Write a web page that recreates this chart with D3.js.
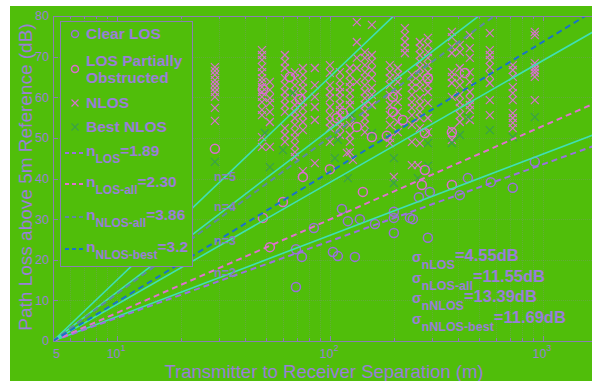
<!DOCTYPE html>
<html><head><meta charset="utf-8">
<script src="https://cdn.jsdelivr.net/npm/d3@7"></script>
<style>html,body{margin:0;padding:0;background:#fff;overflow:hidden}</style>
</head><body><svg id="c" width="592" height="381"></svg>
<script>
// ---------- data ----------
const xTicks = [5, 10, 100, 1000];
const xTickBase = ["5", "10", "10", "10"];
const xTickExp = ["", "1", "2", "3"];
const yTicks = [0, 10, 20, 30, 40, 50, 60, 70, 80];

const refN = [2, 3, 4, 5];
const fitN = [1.89, 2.30, 3.86, 3.2];
const fitSub = ["LOS", "LOS-all", "NLOS-all", "NLOS-best"];
const fitVal = ["1.89", "2.30", "3.86", "3.2"];
const sigmaSub = ["nLOS", "nLOS-all", "nNLOS", "nNLOS-best"];
const sigmaVal = ["4.55dB", "11.55dB", "13.39dB", "11.69dB"];

const clearLOS = [[113.7,32.5],[121.3,29.5],[138.1,30.0],[84.0,27.8],[69.2,22.6],[73.8,20.7],[103.2,21.9],[108.9,20.9],[130.9,20.7],[69.2,13.3],[162.5,28.8],[199.5,31.8],[199.5,30.3],[199.5,26.6],[237.3,30.3],[261.4,35.4],[294.5,36.7],[407.2,35.9],[444.1,40.1],[569.2,39.1],[721.9,37.7],[916.2,44.1],[245.1,30.0],[288.2,25.4]];

const partialLOS = [[28.8,47.3],[48.4,62.0],[64.8,65.0],[72.2,59.6],[107.7,54.9],[115.0,56.1],[133.7,52.7],[157.3,50.2],[184.9,50.5],[220.0,54.4],[197.3,60.1],[197.3,56.4],[288.2,64.7],[429.9,66.0],[278.9,42.1],[278.9,51.2],[373.6,51.4],[270.0,38.4],[373.6,38.4],[60.1,34.2],[74.6,40.4],[99.9,42.3],[142.7,36.7],[52.2,23.1],[48.4,30.3]];

const nlosCols = [
 [28.8,[67.4,66.5,65.5,64.2,63.3,62.3,61.3,60.1,57.4,54.2]],
 [47.9,[71.6,70.4,69.2,67.4,66.2,64.7,63.8,62.5,61.3,60.1,58.8,56.9,55.6,50.2,47.8]],
 [52.2,[63.8,61.8,59.8,58.6,56.4,53.9,47.8]],
 [61.4,[70.4,68.7,67.2,64.7,63.0,61.3,59.8,58.1,56.4,52.4,50.7,49.0]],
 [68.4,[66.2,64.7,63.0,61.3,59.8,58.1,56.4,54.9,53.2,51.4,50.0,48.2,46.5,45.3]],
 [74.6,[67.2,65.5,63.8,62.3,60.6,58.8,57.4,55.6,53.9,51.9,41.8]],
 [84.9,[67.2,63.0,60.1,57.6,54.4,43.8]],
 [99.9,[67.9,66.0,63.0,61.3,59.8,57.6,55.6,53.9,52.4,49.0]],
 [111.3,[66.2,64.2,62.5,61.3,59.8,58.1,56.9,55.6,53.9,52.7,50.7]],
 [120.0,[46.3]],
 [124.0,[67.2,65.5,63.8,62.5,61.0,59.3,58.1,55.6,53.2,50.7,49.0,46.5]],
 [128.1,[44.6]],
 [133.7,[78.5,73.6,69.7,67.2,63.8]],
 [145.8,[71.1,69.7,67.9,66.2,64.7,63.0,61.3,59.8,58.1,56.4,54.9,53.2,51.4]],
 [157.3,[77.8,70.4,68.7,66.7,64.7,62.3,60.6,58.1]],
 [191.0,[67.9,66.2,64.7,63.0,60.6,58.1,55.6,53.2,50.0,48.7]],
 [199.5,[40.4]],
 [208.3,[67.2,65.5,63.8,61.3,58.8,56.4,53.9,51.4]],
 [224.8,[77.0,75.3,73.6,72.1,70.9]],
 [242.4,[65.5,63.8,62.3,60.6,58.8,57.4,55.6,53.2,49.0,43.3]],
 [258.6,[43.3]],
 [264.3,[73.6,72.1,70.4,68.7,67.2,65.5,63.8,62.3,59.8,58.1,56.4,54.9,52.4,48.7]],
 [288.2,[74.6,72.9,71.1,69.7,67.9,66.2,64.7,63.0,61.3,58.6,54.9,51.4]],
 [373.6,[76.1,74.8,72.4,70.9,66.2,65.0,63.5,60.1,51.9,49.5]],
 [407.2,[72.9,71.1,67.2,64.7,63.0,60.6,58.8,57.4,55.6,53.9]],
 [453.8,[75.3,72.1,69.7,66.2,63.8,61.3,59.3,58.1,56.9,54.4]],
 [563.1,[75.8,71.6,70.4,69.2,67.4,65.5,63.5,59.3,55.6]],
 [721.9,[67.9,66.7,65.0,62.5,61.0,59.3,56.1,54.9,53.7,52.4]],
 [916.2,[76.1,75.3,68.4,67.4,66.7,66.0,65.0,59.3]]
];

const bestNLOS = [[28.8,44.1],[49.5,51.2],[52.2,42.8],[66.9,61.0],[60.1,47.0],[105.4,45.0],[108.9,49.5],[121.3,40.1],[157.3,51.2],[199.5,45.0],[199.5,38.9],[288.2,43.1],[258.6,40.1],[288.2,48.7],[373.6,48.7],[407.2,50.7],[444.1,55.1],[563.1,51.9],[721.9,50.2],[916.2,55.1],[126.7,55.6]];

// ---------- style ----------
const FONT = "'Liberation Sans', Arial, Helvetica, sans-serif";
const TXT = "#9a7fd8", AX = "#8a80b0", BG = "#50be0a";
const C_CLEAR = "#9b70dc", C_PART = "#dc6cd2", C_NLOS = "#d870d0", C_BEST = "#3aa04c";
const C_REF = "#40dfb4";
const fitColors = ["#9b70e0", "#e070d0", "#5f8aa0", "#1a72c8"];

const W = 592, H = 381;
const svg = d3.select("#c");
svg.append("rect").attr("x", 10).attr("y", 6).attr("width", W - 10).attr("height", H - 6).attr("fill", BG);

const L = 53, T = 16, R = 607, B = 341;
const x = d3.scaleLog().domain([5, 2000]).range([L, R]);
const y = d3.scaleLinear().domain([0, 80]).range([B, T]);

svg.append("clipPath").attr("id", "pc").append("rect")
  .attr("x", L).attr("y", T).attr("width", R - L).attr("height", B - T);

// grid
const grid = svg.append("g").attr("stroke", "#8a8aa0").attr("stroke-opacity", 0.32).attr("stroke-width", 1);
grid.selectAll(".gx").data(x.ticks()).join("line")
  .attr("x1", d => Math.round(x(d)) + 0.5).attr("x2", d => Math.round(x(d)) + 0.5)
  .attr("y1", T).attr("y2", B).attr("stroke-dasharray", "1,1");
grid.selectAll(".gy").data(yTicks).join("line")
  .attr("x1", L).attr("x2", R).attr("y1", d => Math.round(y(d)) + 0.5).attr("y2", d => Math.round(y(d)) + 0.5)
  .attr("stroke-dasharray", "1,1");

const plot = svg.append("g").attr("clip-path", "url(#pc)");

function cross(g, data, color, s) {
  g.selectAll(null).data(data).join("path")
    .attr("d", d => {
      const px = x(d[0]), py = y(d[1]);
      return `M${px - s},${py - s}L${px + s},${py + s}M${px - s},${py + s}L${px + s},${py - s}`;
    })
    .attr("stroke", color).attr("stroke-width", 1.2).attr("fill", "none");
}
const nlosPts = nlosCols.flatMap(c => c[1].map(v => [c[0], v]));
cross(plot.append("g"), nlosPts, C_NLOS, 4);
cross(plot.append("g"), bestNLOS, C_BEST, 4);

plot.append("g").selectAll("circle").data(partialLOS).join("circle")
  .attr("cx", d => x(d[0])).attr("cy", d => y(d[1])).attr("r", 4.5)
  .attr("fill", "none").attr("stroke", C_PART).attr("stroke-width", 1.5);
plot.append("g").selectAll("circle").data(clearLOS).join("circle")
  .attr("cx", d => x(d[0])).attr("cy", d => y(d[1])).attr("r", 4.5)
  .attr("fill", "none").attr("stroke", C_CLEAR).attr("stroke-width", 1.5);

// lines
const lineFor = n => d3.line().x(d => x(d)).y(d => y(10 * n * Math.log10(d / 5)))([5, 2000]);
plot.append("g").selectAll("path").data(refN).join("path")
  .attr("d", lineFor).attr("fill", "none").attr("stroke", C_REF).attr("stroke-width", 1.6);
plot.append("g").selectAll("path").data(fitN).join("path")
  .attr("d", lineFor).attr("fill", "none")
  .attr("stroke", (d, i) => fitColors[i]).attr("stroke-width", 2).attr("stroke-dasharray", "6,4");

// n= labels
const nLabelY = [277, 245, 211, 181];
svg.append("g").selectAll("text").data(refN).join("text")
  .attr("x", 214).attr("y", (d, i) => nLabelY[i])
  .attr("font-family", FONT).attr("font-weight", "bold").attr("font-size", 12.5)
  .attr("fill", "#8a7fc4").text(d => "n=" + d);

// axes frame
const ax = svg.append("g").attr("stroke", AX).attr("stroke-width", 1).attr("fill", "none");
ax.append("line").attr("x1", L + 0.5).attr("x2", L + 0.5).attr("y1", T).attr("y2", B + 0.5);
ax.append("line").attr("x1", L).attr("x2", R).attr("y1", B + 0.5).attr("y2", B + 0.5);
ax.append("line").attr("x1", L).attr("x2", R).attr("y1", T + 0.5).attr("y2", T + 0.5);
ax.selectAll(".ty").data(yTicks).join("line")
  .attr("x1", L).attr("x2", L + 5).attr("y1", d => Math.round(y(d)) + 0.5).attr("y2", d => Math.round(y(d)) + 0.5);
ax.selectAll(".tx").data(x.ticks()).join("line")
  .attr("x1", d => Math.round(x(d)) + 0.5).attr("x2", d => Math.round(x(d)) + 0.5)
  .attr("y1", B).attr("y2", d => B - (xTicks.includes(d) ? 5 : 3));
ax.selectAll(".tt").data(x.ticks()).join("line")
  .attr("x1", d => Math.round(x(d)) + 0.5).attr("x2", d => Math.round(x(d)) + 0.5)
  .attr("y1", T).attr("y2", d => T + (xTicks.includes(d) ? 5 : 3));

// tick labels
svg.append("g").selectAll("text").data(yTicks).join("text")
  .attr("x", 49).attr("y", d => y(d)).attr("dy", "0.35em").attr("text-anchor", "end")
  .attr("font-family", FONT).attr("font-size", 12.5).attr("fill", TXT).text(d => d);
const xl = svg.append("g").selectAll("text").data(xTicks).join("text")
  .attr("x", (d, i) => x(d) + (i === 0 ? 3.5 : -1)).attr("y", 357.5).attr("text-anchor", "middle")
  .attr("font-family", FONT).attr("font-size", 12.5).attr("fill", TXT);
xl.append("tspan").text((d, i) => xTickBase[i]);
xl.append("tspan").attr("dy", -7).attr("font-size", 9).text((d, i) => xTickExp[i]);

// axis titles
svg.append("text").attr("x", 324).attr("y", 378).attr("text-anchor", "middle")
  .attr("font-family", FONT).attr("font-size", 18.5).attr("fill", TXT)
  .text("Transmitter to Receiver Separation (m)");
svg.append("text").attr("transform", "translate(32,177) rotate(-90)").attr("text-anchor", "middle")
  .attr("font-family", FONT).attr("font-size", 19).attr("fill", TXT)
  .text("Path Loss above 5m Reference (dB)");

// legend
const lg = svg.append("g");
lg.append("rect").attr("x", 60.5).attr("y", 21.5).attr("width", 132).attr("height", 245)
  .attr("fill", BG).attr("stroke", AX).attr("stroke-width", 1);
const lt = (tx, ty, s) => lg.append("text").attr("x", tx).attr("y", ty).attr("font-family", FONT)
  .attr("font-weight", "bold").attr("font-size", 15.5).attr("fill", TXT).text(s);
lg.append("circle").attr("cx", 75).attr("cy", 34).attr("r", 3.5).attr("fill", "none").attr("stroke", C_CLEAR).attr("stroke-width", 1.5);
lt(86, 39, "Clear LOS");
lg.append("circle").attr("cx", 75).attr("cy", 69).attr("r", 3.5).attr("fill", "none").attr("stroke", C_PART).attr("stroke-width", 1.5);
lt(86, 66, "LOS Partially");
lt(86, 83, "Obstructed");
const lgCross = (cy, color) => {
  const s = 3.5, cx = 75;
  lg.append("path").attr("d", `M${cx - s},${cy - s}L${cx + s},${cy + s}M${cx - s},${cy + s}L${cx + s},${cy - s}`)
    .attr("stroke", color).attr("stroke-width", 1.2);
};
lgCross(103, C_NLOS);
lt(86, 108, "NLOS");
lgCross(127, C_BEST);
lt(86, 132, "Best NLOS");
const fitBase = [156, 187, 220, 252];
fitN.forEach((n, i) => {
  const by = fitBase[i];
  lg.append("line").attr("x1", 65).attr("x2", 86).attr("y1", by - 3).attr("y2", by - 3)
    .attr("stroke", fitColors[i]).attr("stroke-width", 2).attr("stroke-dasharray", "4,3");
  const t = lg.append("text").attr("x", 86).attr("y", by).attr("font-family", FONT)
    .attr("font-weight", "bold").attr("font-size", 15.5).attr("fill", TXT);
  t.append("tspan").text("n");
  t.append("tspan").attr("dy", 7).attr("font-size", 12).text(fitSub[i]);
  t.append("tspan").attr("dy", -7).text("=" + fitVal[i]);
});

// sigma annotations
const sigBase = [261, 282, 302, 323];
sigmaSub.forEach((s, i) => {
  const t = svg.append("text").attr("x", 412).attr("y", sigBase[i]).attr("font-family", FONT)
    .attr("font-weight", "bold").attr("font-size", 16.5).attr("fill", TXT);
  t.append("tspan").attr("font-size", 14).attr("dy", 1).text("σ");
  t.append("tspan").attr("dy", 7).attr("font-size", 12.5).text(s);
  t.append("tspan").attr("dy", -8).text("=" + sigmaVal[i]);
});
</script></body></html>
